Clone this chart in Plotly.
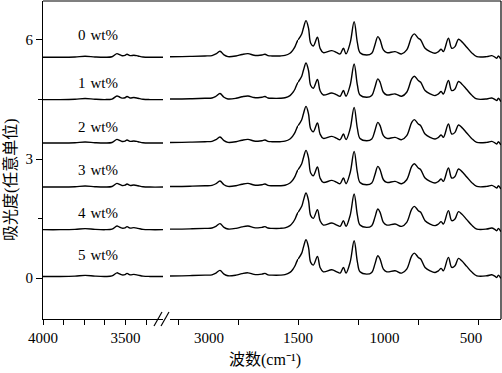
import plotly.graph_objects as go

# ---------------- data ----------------
sample_labels = ["0 wt%", "1 wt%", "2 wt%", "3 wt%", "4 wt%", "5 wt%"]
offsets = [5.571, 4.505, 3.411, 2.302, 1.228, 0.050]

# segment 1: 4000 - ~3270 cm-1
seg1_wn = [4000, 3897, 3806, 3745, 3685, 3624, 3582, 3552, 3539, 3521, 3503,
           3491, 3473, 3449, 3424, 3394, 3352, 3273]
seg1_abs = [-0.008, -0.008, 0.0, 0.018, 0.0, -0.008, 0.005, 0.083, 0.063, 0.030,
            0.038, 0.068, 0.033, 0.043, 0.025, 0.0, -0.008, -0.008]

# segment 2: ~3650 - 1500 cm-1 (compressed)
seg2_wn = [3657, 3320, 3067, 2949, 2882, 2815, 2747, 2680, 2545, 2444, 2343, 2242,
           2174, 2107, 2056, 2006, 1938, 1803, 1719, 1635, 1584, 1550, 1525, 1500]
seg2_abs = [0.005, 0.013, 0.025, 0.033, 0.076, 0.144, 0.050, 0.008, 0.025, 0.063,
            0.083, 0.043, 0.038, 0.050, 0.068, 0.033, 0.025, 0.025, 0.038, 0.093,
            0.176, 0.260, 0.353, 0.429]

# segment 3: 1500 - ~330 cm-1
seg3_wn = [1500, 1479, 1469, 1454, 1440, 1427, 1412, 1388, 1373, 1354, 1305, 1276,
           1257, 1238, 1223, 1199, 1176, 1157, 1142, 1103, 1074, 1056, 1039, 1026,
           1007, 987, 939, 901, 872, 843, 828, 805, 791, 766, 737, 708, 689, 673,
           660, 631, 612, 593, 573, 554, 525, 497, 467, 409, 380, 361, 351, 342, 328]
seg3_abs = [0.429, 0.580, 0.731, 0.915, 0.731, 0.345, 0.277, 0.497, 0.219, 0.108,
            0.159, 0.108, 0.076, 0.219, 0.076, 0.353, 0.890, 0.353, 0.108, 0.050,
            0.093, 0.302, 0.512, 0.429, 0.176, 0.108, 0.134, 0.076, 0.176, 0.512,
            0.580, 0.471, 0.429, 0.219, 0.134, 0.093, 0.134, 0.194, 0.134, 0.471,
            0.219, 0.260, 0.446, 0.386, 0.245, 0.108, 0.008, 0.008, 0.033, -0.008,
            -0.033, 0.025, -0.058]

x_tick_labels_1 = ["4000", "", "3500"]
x_tick_vals_1 = [4000, 3750, 3500]
y_tick_vals = [0, 3, 6]
y_tick_labels = ["0", "3", "6"]

# ---------------- layout helpers ----------------
W, H = 502, 373
L, R, T, B = 43, 1, 1, 54
PW, PH = W - L - R, H - T - B


def px(x):
    return (x - L) / PW


def py(y):
    return (H - B - y) / PH


SERIF = "Liberation Serif, Times New Roman, Noto Sans CJK SC, serif"
LINE = dict(color="black", width=1.4)

fig = go.Figure()
for off in offsets:
    fig.add_trace(go.Scatter(x=seg1_wn, y=[v + off for v in seg1_abs], mode="lines",
                             line=LINE, line_shape="spline", xaxis="x", yaxis="y",
                             showlegend=False, hoverinfo="skip"))
    fig.add_trace(go.Scatter(x=seg2_wn, y=[v + off for v in seg2_abs], mode="lines",
                             line=LINE, line_shape="spline", xaxis="x2", yaxis="y",
                             showlegend=False, hoverinfo="skip"))
    fig.add_trace(go.Scatter(x=seg3_wn, y=[v + off for v in seg3_abs], mode="lines",
                             line=LINE, line_shape="spline", xaxis="x3", yaxis="y",
                             showlegend=False, hoverinfo="skip"))

tickfont = dict(family=SERIF, size=15, color="black")
common_x = dict(showline=True, linecolor="black", linewidth=1.2, showgrid=False,
                zeroline=False, tickfont=tickfont, anchor="y", ticks="outside",
                ticklen=5, tickwidth=1.2)

fig.update_layout(
    width=W, height=H,
    margin=dict(l=L, r=R, t=T, b=B, autoexpand=False),
    paper_bgcolor="white", plot_bgcolor="white",
    xaxis=dict(common_x, domain=[0, px(163)], range=[4000, 3273],
               tickmode="array", tickvals=x_tick_vals_1, ticktext=x_tick_labels_1,
               tickcolor="black",
               minor=dict(tickmode="array", tickvals=[3875, 3625, 3375],
                          ticks="outside", ticklen=5, tickwidth=1.2, tickcolor="black")),
    xaxis2=dict(common_x, domain=[px(170), px(298)], range=[3657, 1500],
                tickmode="array", tickvals=[3000], ticktext=["3000"],
                tickcolor="rgba(0,0,0,0)",
                minor=dict(tickmode="array", tickvals=[3522, 2511],
                           ticks="outside", ticklen=5, tickwidth=1.2, tickcolor="black")),
    xaxis3=dict(common_x, domain=[px(298), 1], range=[1500.5, 327],
                tickmode="array", tickvals=[1500, 1000, 500],
                ticktext=["1500", "1000", "500"],
                tickcolor="rgba(0,0,0,0)",
                minor=dict(tickmode="array", tickvals=[1499, 1153, 806, 459],
                           ticks="outside", ticklen=5, tickwidth=1.2, tickcolor="black")),
    yaxis=dict(range=[-1.03, 6.98], showline=True, linecolor="black", linewidth=1.2,
               showgrid=False, zeroline=False, ticks="outside", ticklen=6,
               tickwidth=1.2, tickcolor="black", tickmode="array",
               tickvals=y_tick_vals, ticktext=y_tick_labels,
               tickfont=tickfont, anchor="x",
               minor=dict(tickmode="linear", tick0=1.5, dtick=3, ticks="outside",
                          ticklen=4, tickwidth=1.2, tickcolor="black")),
)

# frame: top and right borders
fig.add_shape(type="line", xref="paper", yref="paper", x0=0, x1=1, y0=1, y1=1,
              line=dict(color="black", width=1.2))
fig.add_shape(type="line", xref="paper", yref="paper", x0=1, x1=1, y0=0, y1=1,
              line=dict(color="black", width=1.2))
# axis break marks
for (xa, ya, xb, yb) in [(154, 326, 162, 312), (161, 326, 169, 312)]:
    fig.add_shape(type="line", xref="paper", yref="paper",
                  x0=px(xa), y0=py(ya), x1=px(xb), y1=py(yb),
                  line=dict(color="black", width=1.2))

# sample labels
label_y = [6.12, 4.92, 3.81, 2.72, 1.64, 0.58]
for lab, ly in zip(sample_labels, label_y):
    fig.add_annotation(text=lab.replace(" ", " \u200a"), xref="x", yref="y",
                       x=3665, y=ly, showarrow=False, xanchor="center", yanchor="middle",
                       font=dict(family=SERIF, size=15, color="black"))

# axis titles
fig.add_annotation(text="吸光度(任意单位)", xref="paper", yref="paper",
                   x=px(10), y=py(180), textangle=-90, showarrow=False,
                   xanchor="center", yanchor="middle",
                   font=dict(family=SERIF, size=16, color="black"))
fig.add_annotation(text="波数(cm⁻¹)", xref="paper", yref="paper",
                   x=px(265), y=py(360), showarrow=False,
                   xanchor="center", yanchor="middle",
                   font=dict(family=SERIF, size=16, color="black"))

fig.write_html("out.html", post_script="document.body.style.margin='0';",
               config={"displayModeBar": False})
